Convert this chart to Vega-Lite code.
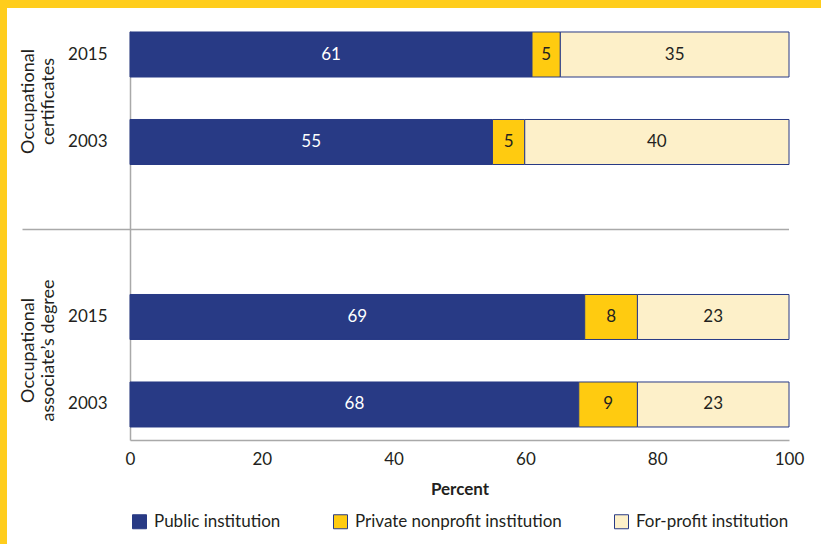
{
  "$schema": "https://vega.github.io/schema/vega-lite/v6.json",
  "width": 814,
  "height": 536,
  "autosize": {"type": "none"},
  "padding": {"top": 8, "left": 7, "right": 0, "bottom": 0},
  "background": "#ffcd1c",
  "config": {"view": {"fill": "#ffffff", "stroke": null}, "font": "Lato"},
  "datasets": {
    "bars": [
      {"row": "c2015", "inst": "Public institution", "order": 1, "value": 61, "label": 61},
      {"row": "c2015", "inst": "Private nonprofit institution", "order": 2, "value": 4.3, "label": 5},
      {"row": "c2015", "inst": "For-profit institution", "order": 3, "value": 34.7, "label": 35},
      {"row": "c2003", "inst": "Public institution", "order": 1, "value": 55, "label": 55},
      {"row": "c2003", "inst": "Private nonprofit institution", "order": 2, "value": 4.9, "label": 5},
      {"row": "c2003", "inst": "For-profit institution", "order": 3, "value": 40.1, "label": 40},
      {"row": "a2015", "inst": "Public institution", "order": 1, "value": 69, "label": 69},
      {"row": "a2015", "inst": "Private nonprofit institution", "order": 2, "value": 8, "label": 8},
      {"row": "a2015", "inst": "For-profit institution", "order": 3, "value": 23, "label": 23},
      {"row": "a2003", "inst": "Public institution", "order": 1, "value": 68.1, "label": 68},
      {"row": "a2003", "inst": "Private nonprofit institution", "order": 2, "value": 8.9, "label": 9},
      {"row": "a2003", "inst": "For-profit institution", "order": 3, "value": 23, "label": 23}
    ],
    "divider": [{"row": "gap", "value": 0, "to": 100}],
    "groups": [{"grp": "Occupational|certificates"}, {"grp": "Occupational|associate’s degree"}]
  },
  "layer": [
    {
      "layer": [
        {
          "data": {"name": "bars"},
          "mark": {"type": "bar", "stroke": "#283a85", "strokeWidth": 1},
          "encoding": {
            "y": {
              "field": "row",
              "type": "nominal",
              "title": null,
              "scale": {
                "domain": ["c2015", "c2003", "gap", "a2015", "a2003"],
                "range": [23, 432],
                "paddingInner": 0.4857,
                "paddingOuter": 0.08,
                "align": 0.0714
              },
              "axis": {
                "title": null,
                "orient": "left",
                "offset": -123,
                "domainColor": "#a9a9a9",
                "domainWidth": 1.5,
                "ticks": true,
                "tickSize": 108,
                "tickColor": "#a9a9a9",
                "tickWidth": 1.5,
                "tickOpacity": {"condition": {"test": "datum.value === 'gap'", "value": 1}, "value": 0},
                "labelExpr": "datum.value === 'gap' ? '' : slice(datum.value, 1)",
                "labelPadding": -85,
                "labelFontSize": 17,
                "labelColor": "#231f20",
                "labelAlign": "right",
                "labelBaseline": "middle"
              }
            },
            "x": {
              "field": "value",
              "type": "quantitative",
              "stack": "zero",
              "title": "Percent",
              "scale": {"domain": [0, 100], "range": [123, 782], "nice": false},
              "axis": {
                "title": "Percent",
                "orient": "bottom",
                "offset": -104,
                "values": [0, 20, 40, 60, 80, 100],
                "ticks": false,
                "grid": false,
                "domainColor": "#a9a9a9",
                "domainWidth": 1.5,
                "labelPadding": 11,
                "labelFontSize": 17,
                "labelColor": "#231f20",
                "labelFlush": false,
                "titleFontSize": 17,
                "titleFontWeight": "bold",
                "titleColor": "#231f20",
                "titlePadding": 14
              }
            },
            "color": {
              "field": "inst",
              "type": "nominal",
              "scale": {
                "domain": ["Public institution", "Private nonprofit institution", "For-profit institution"],
                "range": ["#283a85", "#ffcb10", "#fdf0c9"]
              },
              "legend": {
                "title": null,
                "orient": "none",
                "legendX": 124,
                "legendY": 505,
                "direction": "horizontal",
                "columns": 3,
                "symbolType": "square",
                "symbolSize": 196,
                "symbolStrokeColor": "#283a85",
                "symbolStrokeWidth": 1,
                "symbolOpacity": 1,
                "labelFontSize": 17,
                "labelColor": "#231f20",
                "labelLimit": 400,
                "labelOffset": 6,
                "columnPadding": 50
              }
            },
            "order": {"field": "order"}
          }
        },
        {
          "data": {"name": "bars"},
          "mark": {"type": "text", "fontSize": 17, "align": "center", "baseline": "middle"},
          "encoding": {
            "y": {"field": "row", "type": "nominal", "title": null},
            "x": {"field": "value", "type": "quantitative", "stack": "zero", "bandPosition": 0.5, "title": "Percent"},
            "detail": {"field": "inst"},
            "order": {"field": "order"},
            "text": {"field": "label"},
            "color": {"condition": {"test": "datum.inst === 'Public institution'", "value": "#ffffff"}, "value": "#231f20"}
          }
        },
        {
          "data": {"name": "divider"},
          "mark": {"type": "rule", "color": "#a9a9a9", "strokeWidth": 1.5},
          "encoding": {
            "y": {"field": "row", "type": "nominal", "title": null},
            "x": {"field": "value", "type": "quantitative", "title": "Percent"},
            "x2": {"field": "to"}
          }
        }
      ]
    },
    {
      "data": {"name": "groups"},
      "mark": {"type": "text", "text": ""},
      "encoding": {
        "y": {
          "field": "grp",
          "type": "nominal",
          "scale": {
            "type": "point",
            "domain": ["Occupational|certificates", "Occupational|associate’s degree"],
            "range": [23, 432],
            "padding": 0.3213,
            "align": 0.4375
          },
          "axis": {
            "title": null,
            "orient": "left",
            "offset": -123,
            "domain": false,
            "ticks": false,
            "grid": false,
            "labelExpr": "split(datum.value, '|')",
            "labelAngle": -90,
            "labelAlign": "center",
            "labelBaseline": "bottom",
            "labelLineHeight": 20,
            "labelPadding": 93,
            "labelFontSize": 18,
            "labelColor": "#231f20"
          }
        }
      }
    }
  ],
  "resolve": {"scale": {"y": "independent"}, "axis": {"y": "independent"}}
}
